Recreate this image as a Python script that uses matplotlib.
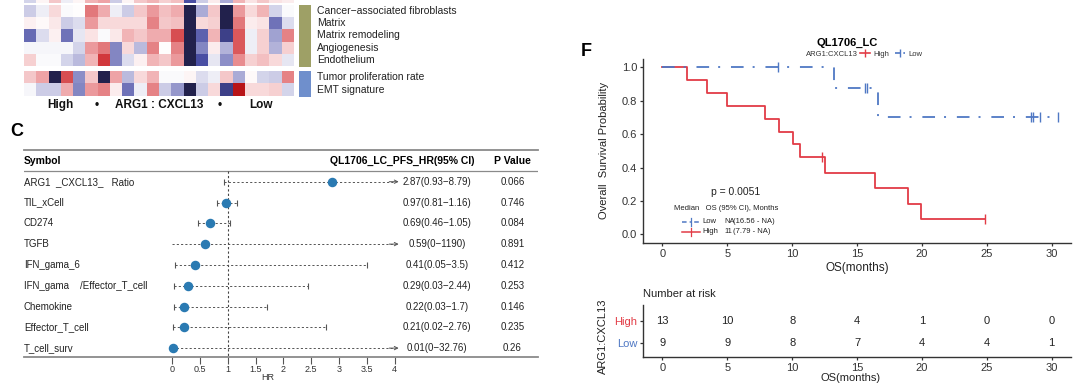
import numpy as np
import matplotlib
matplotlib.use('Agg')
import matplotlib.pyplot as plt
import matplotlib.transforms as mtrans
from matplotlib.colors import LinearSegmentedColormap
from matplotlib.lines import Line2D

plt.rcParams['font.family'] = ['Liberation Sans', 'DejaVu Sans']

W, H = 1080, 388


def box(l, t, r, b):
    # pixel box -> figure fraction
    return [l / W, 1 - b / H, (r - l) / W, (b - t) / H]


# ---------------- heatmap data (z-scores) ----------------
heat_sliver = [-0.5, 0.1, 0.6, -0.2, 0.1, 0.8, 1.0, -0.6, 0.1, 0.6, 0.8, 0.5, 0.7,
               -2.0, -0.6, 0.2, -1.0, 0.8, 0.3, 0.6, 0.3, 0.2]
heat_top = [
    [-0.6, -0.2, 0.4, -0.05, 0, 1.4, 0.9, -0.2, -0.6, 0.6, 1.1, 0.7, 0.9, -3, -1.0, 0.6, -3, 1.1, 0.4, 0.8, -0.5, -0.05],
    [0.15, 0.05, 0.25, -0.6, -0.4, 1.1, 0.4, 0.4, 0.4, 0.4, 1.3, 0.6, 0.7, -3, 0.4, 0.5, -3, 1.4, 0.2, 0.3, -1.6, -0.4],
    [-1.7, -0.4, 0.15, -1.6, -0.3, 0.3, -0.05, 0.25, 0.8, 0.6, 0.9, 0.9, 1.8, -3, -1.8, 0.8, -2.3, 1.7, -0.2, 0.5, -1.1, 1.3],
    [-0.1, -0.1, -0.1, -0.1, -0.5, 1.1, 1.4, -1.4, 0.4, -0.8, 1.3, 0.0, 1.3, -3, -1.4, 0.2, -0.9, 1.7, -0.2, 0.5, -0.9, 0.5],
    [0.5, -0.05, -0.05, -0.5, -0.8, 0.8, 2.0, -1.4, -0.4, 0.15, 0.8, 0.6, 1.1, -3, -2.0, -0.3, -1.3, 1.2, 0.5, 0.7, 0.4, -0.3],
]
heat_bottom = [
    [0.6, 1.0, -3, 1.8, -1.3, 0.6, -3, 1.0, -0.8, 0.4, 0.8, -0.05, -0.05, 0.1, -0.4, -0.2, 0.6, -1.0, 0.05, -0.5, -0.6, 1.3],
    [-0.1, -0.6, -0.6, 0.9, -1.4, 1.1, 1.3, 0.2, -1.6, -0.2, 1.3, -0.6, -1.2, -3, -0.6, 0.4, -2.3, 2.8, 0.4, 0.4, 0.5, -0.5],
]
top_labels = ['Cancer\u2212associated fibroblasts', 'Matrix', 'Matrix remodeling',
              'Angiogenesis', 'Endothelium']
bottom_labels = ['Tumor proliferation rate', 'EMT signature']

# ---------------- forest table data ----------------
symbols = ['ARG1  _CXCL13_   Ratio', 'TIL_xCell', 'CD274', 'TGFB', 'IFN_gama_6',
           'IFN_gama    /Effector_T_cell', 'Chemokine', 'Effector_T_cell', 'T_cell_surv']
hr = [2.87, 0.97, 0.69, 0.59, 0.41, 0.29, 0.22, 0.21, 0.01]
hr_lo = [0.93, 0.81, 0.46, 0, 0.05, 0.03, 0.03, 0.02, 0]
hr_hi = [8.79, 1.16, 1.05, 1190, 3.5, 2.44, 1.7, 2.76, 32.76]
p_vals = ['0.066', '0.746', '0.084', '0.891', '0.412', '0.253', '0.146', '0.235', '0.26']
hr_ticks = [0, 0.5, 1, 1.5, 2, 2.5, 3, 3.5, 4]

# ---------------- survival data (months, 1 = death, 0 = censored) ----------------
high_time = [1.9, 3.4, 4.95, 7.9, 9.0, 10.05, 10.6, 12.3, 12.5, 16.4, 18.9, 19.9, 24.9]
high_event = [1, 1, 1, 1, 1, 1, 1, 0, 1, 1, 1, 1, 0]
low_time = [8.9, 13.2, 15.6, 15.8, 16.6, 28.4, 28.6, 29.1, 30.5]
low_event = [0, 1, 0, 0, 1, 0, 0, 0, 0]
risk_times = [0, 5, 10, 15, 20, 25, 30]

RED = '#e23c46'
BLUE = '#4f78c4'
LOWLS = (0, (7, 5, 1.1, 6))

fig = plt.figure(figsize=(10.8, 3.88), dpi=100)
cmap = LinearSegmentedColormap.from_list(
    'rb', ['#22214c', '#4a4fa5', '#aaabd6', '#ffffff', '#eea3a6', '#d2393d', '#b20c10'])

# ---- heatmap ----
axs = fig.add_axes(box(24, -9, 294, 3))
axs.imshow([heat_sliver], cmap=cmap, vmin=-3, vmax=3, aspect='auto')
axs.axis('off')

ax1 = fig.add_axes(box(24, 5, 294, 66))
ax1.imshow(heat_top, cmap=cmap, vmin=-3, vmax=3, aspect='auto')
ax1.axis('off')
tr1 = mtrans.blended_transform_factory(ax1.transAxes, ax1.transData)
for i, lab in enumerate(top_labels):
    ax1.text(1.085, i, lab, transform=tr1, va='center', ha='left', fontsize=7.5, color='#222')

ax2 = fig.add_axes(box(24, 71, 294, 96))
ax2.imshow(heat_bottom, cmap=cmap, vmin=-3, vmax=3, aspect='auto')
ax2.axis('off')
tr2 = mtrans.blended_transform_factory(ax2.transAxes, ax2.transData)
for i, lab in enumerate(bottom_labels):
    ax2.text(1.085, i, lab, transform=tr2, va='center', ha='left', fontsize=7.5, color='#222')

for (t, b, c) in [(5, 67, '#9ea066'), (71, 97, '#6f8fcc')]:
    sa = fig.add_axes(box(299, t, 311, b))
    sa.set_facecolor(c)
    sa.set_xticks([]); sa.set_yticks([])
    for s in sa.spines.values():
        s.set_visible(False)

for x, s in [(60, 'High'), (97, '\u2022'), (159, 'ARG1 : CXCL13'), (220, '\u2022'), (261, 'Low')]:
    fig.text(x / W, 1 - 105 / H, s, ha='center', va='center', fontsize=8.5,
             fontweight='bold', color='#111')

# ---- panel labels ----
fig.text(17 / W, 1 - 131 / H, 'C', fontsize=13, fontweight='bold', ha='center', va='center')
fig.text(586 / W, 1 - 52 / H, 'F', fontsize=13, fontweight='bold', ha='center', va='center')

# ---- forest table ----
x0, unit = 172, 55.7
axf = fig.add_axes(box(24, 150, 538, 357))
axf.set_xlim((24 - x0) / unit, (538 - x0) / unit)
row_y0, row_h = 181.7, 20.8
axf.set_ylim((357 - row_y0) / row_h, (150 - row_y0) / row_h)
for s in ['left', 'right']:
    axf.spines[s].set_visible(False)
for s in ['top', 'bottom']:
    axf.spines[s].set_color('#8a8a8a')
    axf.spines[s].set_linewidth(1.3)
axf.set_yticks([])
axf.set_xticks(hr_ticks)
axf.set_xticklabels([f'{v:g}' for v in hr_ticks], fontsize=6.5, color='#333')
axf.tick_params(axis='x', length=5, width=0.8, color='#555', pad=1)
head_y = (161 - row_y0) / row_h
line_y = (171 - row_y0) / row_h
axf.axhline(line_y, color='#8a8a8a', lw=0.9)
axf.vlines(1, line_y, (357 - row_y0) / row_h, color='#444', lw=0.8, linestyles=(0, (2, 2)))
trf = mtrans.blended_transform_factory(axf.transAxes, axf.transData)
axf.text(0, head_y, 'Symbol', transform=trf, fontsize=7.5, fontweight='bold', va='center', ha='left')
axf.text((474 - 24) / 514, head_y, 'QL1706_LC_PFS_HR(95% CI)', transform=trf, fontsize=7.5,
         fontweight='bold', va='center', ha='right')
axf.text((512.5 - 24) / 514, head_y, 'P Value', transform=trf, fontsize=7.5,
         fontweight='bold', va='center', ha='center')
for i in range(len(symbols)):
    lo_c = max(hr_lo[i], 0)
    hi_c = min(hr_hi[i], 4.0)
    axf.plot([lo_c, hi_c], [i, i], color='#555', lw=0.7, ls=(0, (2.2, 2.2)))
    if hr_hi[i] > 4:
        axf.annotate('', xy=(4.07, i), xytext=(3.9, i),
                     arrowprops=dict(arrowstyle='->', color='#555', lw=0.7,
                                     shrinkA=0, shrinkB=0, mutation_scale=6))
    else:
        axf.plot([hi_c], [i], marker='|', ms=4, color='#555', mew=0.8)
    if hr_lo[i] > 0:
        axf.plot([lo_c], [i], marker='|', ms=4, color='#555', mew=0.8)
    axf.scatter([hr[i]], [i], s=34, color='#2a7ab2', zorder=3)
    axf.text(0, i, symbols[i], transform=trf, fontsize=7, va='center', ha='left', color='#222')
    ci = f'{hr[i]:g}({hr_lo[i]:g}\u2212{hr_hi[i]:g})'
    axf.text((437 - 24) / 514, i, ci, transform=trf, fontsize=7, va='center', ha='center', color='#222')
    axf.text((512.5 - 24) / 514, i, p_vals[i], transform=trf, fontsize=7, va='center',
             ha='center', color='#222')
axf.text(1.72, -(377 - 357) / 207, 'HR',
         transform=mtrans.blended_transform_factory(axf.transData, axf.transAxes),
         fontsize=6.5, ha='center', va='center', color='#333')


# ---- Kaplan-Meier ----
def km(times, events):
    order = np.argsort(times)
    t = np.asarray(times, float)[order]
    e = np.asarray(events)[order]
    n = len(t)
    s = 1.0
    xs, ys, cx, cy = [0.0], [1.0], [], []
    for k, (ti, ei) in enumerate(zip(t, e)):
        at_risk = n - k
        if ei:
            s *= (at_risk - 1) / at_risk
            xs.append(ti); ys.append(s)
        else:
            cx.append(ti); cy.append(s)
    xs.append(t.max()); ys.append(s)
    return xs, ys, cx, cy


axk = fig.add_axes(box(643, 59, 1071, 242.7))
hx, hy, hcx, hcy = km(high_time, high_event)
lx, ly, lcx, lcy = km(low_time, low_event)
axk.step(hx, hy, where='post', color=RED, lw=1.3)
axk.plot(hcx, hcy, ls='none', marker='|', ms=7, mew=1.0, color=RED)
axk.step(lx, ly, where='post', color=BLUE, lw=1.3, ls=LOWLS)
axk.plot(lcx, lcy, ls='none', marker='|', ms=7, mew=1.0, color=BLUE)
axk.set_xlim(-1.5, 31.5)
axk.set_ylim(-0.05, 1.05)
axk.set_xticks(risk_times)
axk.set_yticks(np.arange(0, 1.01, 0.2))
axk.set_yticklabels([f'{v:.1f}' for v in np.arange(0, 1.01, 0.2)])
for s in ['top', 'right']:
    axk.spines[s].set_visible(False)
for s in ['left', 'bottom']:
    axk.spines[s].set_color('#333')
    axk.spines[s].set_linewidth(1.0)
axk.tick_params(labelsize=8, colors='#333', length=2.5, width=0.9, pad=1.8)
axk.set_ylabel('Overall  Survival Probability', fontsize=8, color='#222')
axk.yaxis.set_label_coords((609 - 643) / 428, 0.5)
axk.set_xlabel('OS(months)', fontsize=8.5, color='#222')
axk.xaxis.set_label_coords(0.5, -0.105)
axk.text(5.68, 0.255, 'p = 0.0051', fontsize=7.5, ha='center', va='center', color='#222')


# median block
def ax_xy(px, py):
    return (px - 643) / 428, 1 - (py - 59) / 183.7


tx, ty = ax_xy(674, 209)
axk.text(tx, ty, 'Median   OS (95% CI), Months', transform=axk.transAxes, fontsize=5.5,
         va='center', ha='left', color='#222')
for py, lab, med, ci, col, ls in [(221.7, 'Low', 'NA', '(16.56 - NA)', BLUE, (0, (3, 2, 1, 2))),
                                  (231.7, 'High', '11', '(7.79 - NA)', RED, '-')]:
    gx0, gy = ax_xy(682, py)
    gx1, _ = ax_xy(700, py)
    axk.add_line(Line2D([gx0, gx1], [gy, gy], transform=axk.transAxes, color=col, lw=1.1, ls=ls))
    axk.add_line(Line2D([(gx0 + gx1) / 2] * 2, [gy - 0.022, gy + 0.022], transform=axk.transAxes,
                        color=col, lw=0.9))
    axk.text(ax_xy(702, py)[0], gy, lab, transform=axk.transAxes, fontsize=5.5, va='center', color='#222')
    axk.text(ax_xy(724, py)[0], gy, med, transform=axk.transAxes, fontsize=5.5, va='center', color='#222')
    axk.text(ax_xy(733, py)[0], gy, ci, transform=axk.transAxes, fontsize=5.5, va='center', color='#222')

# title + legend
fig.text(847 / W, 1 - 43 / H, 'QL1706_LC', fontsize=8, fontweight='bold', ha='center', va='center')
fig.text(806 / W, 1 - 54 / H, 'ARG1:CXCL13', fontsize=5.5, ha='left', va='center', color='#333')
handles = [Line2D([], [], color=RED, lw=1.2, marker='|', ms=6),
           Line2D([], [], color=BLUE, lw=1.2, ls=(0, (3, 2, 1, 2)), marker='|', ms=6)]
fig.legend(handles, ['High', 'Low'], loc='center left', bbox_to_anchor=(860 / W, 1 - 54 / H),
           ncol=2, frameon=False, fontsize=5.5, handlelength=1.3, handletextpad=0.4,
           columnspacing=0.8, borderpad=0, borderaxespad=0, labelcolor='#333')

# ---- risk table ----
axr = fig.add_axes(box(643, 305, 1071, 357))
axr.set_xlim(-1.5, 31.5)
axr.set_ylim(0.385, 2.72)
for yrow, times in [(2, high_time), (1, low_time)]:
    tarr = np.asarray(times)
    for rt in risk_times:
        axr.text(rt, yrow, str(int((tarr >= rt).sum())), fontsize=8, ha='center', va='center',
                 color='#222')
axr.set_yticks([2, 1])
axr.set_yticklabels(['High', 'Low'], fontsize=8)
axr.get_yticklabels()[0].set_color(RED)
axr.get_yticklabels()[1].set_color(BLUE)
axr.set_xticks(risk_times)
for s in ['top', 'right']:
    axr.spines[s].set_visible(False)
for s in ['left', 'bottom']:
    axr.spines[s].set_color('#333')
    axr.spines[s].set_linewidth(1.0)
axr.tick_params(axis='x', labelsize=8, colors='#333', length=2.5, width=0.9, pad=1.5)
axr.tick_params(axis='y', length=2.5, width=0.9, color='#333', pad=1.8)
axr.set_xlabel('OS(months)', fontsize=8, color='#222', labelpad=0)
axr.xaxis.set_label_coords(0.484, -0.31)
axr.set_ylabel('ARG1:CXCL13', fontsize=8, color='#222')
axr.yaxis.set_label_coords((608 - 643) / 428, 0.4)
axr.text(0, 1 + (305 - 294) / 52, 'Number at risk', transform=axr.transAxes, fontsize=8,
         ha='left', va='center', color='#222')

fig.savefig('out.png', dpi=100, facecolor='white')
